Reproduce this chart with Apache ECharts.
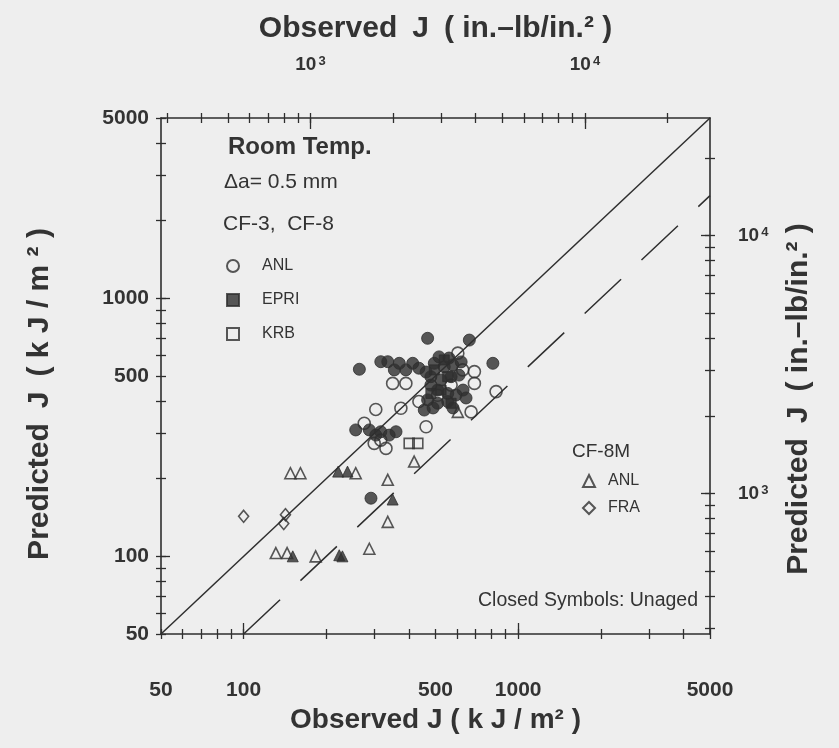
<!DOCTYPE html>
<html>
<head>
<meta charset="utf-8">
<title>Predicted vs Observed J</title>
<script src="https://cdn.jsdelivr.net/npm/echarts@6/dist/echarts.min.js"></script>
<style>
  html, body { margin: 0; padding: 0; background: #eeeeee; }
  #chart { width: 839px; height: 748px; }
</style>
</head>
<body>
<div id="chart"></div>
<script>
// J values in kJ/m^2: [observed, predicted]
const anlAged = [
  [603, 613], [349, 468], [390, 468], [303, 371], [374, 375], [693, 520],
  [628, 528], [693, 468], [831, 435], [674, 363], [462, 318], [275, 328],
  [316, 282], [330, 262], [299, 274], [435, 398], [509, 421], [570, 461]
];
const anlUnaged = [
  [468, 700], [664, 689], [264, 531], [335, 568], [369, 560], [413, 560],
  [354, 528], [390, 528], [809, 560], [256, 309], [287, 309], [316, 304],
  [359, 304], [303, 295], [339, 295], [291, 168], [495, 560], [538, 543],
  [578, 552], [481, 497], [524, 483], [570, 497], [509, 441], [554, 428],
  [468, 404], [509, 392], [554, 398], [455, 369], [609, 504], [630, 441],
  [594, 422], [481, 461], [462, 518], [560, 587], [620, 567], [515, 593],
  [490, 376], [579, 376], [646, 411], [316, 568], [435, 536]
];
const epri = [
  [495, 528], [554, 497], [524, 441], [481, 428], [570, 392], [538, 577]
];
const krb = [
  [401, 274], [431, 274]
];
const cf8mAnlAged = [
  [148, 210], [161, 210], [256, 210], [335, 198], [335, 136], [287, 107],
  [131, 103], [144, 103], [183, 100], [418, 233], [603, 363]
];
const cf8mAnlUnaged = [
  [221, 213], [239, 213], [349, 166], [151, 100], [223, 101], [229, 100]
];
const fra = [
  [100, 143], [142, 145], [140, 134]
];
// reference lines: predicted = observed, predicted = observed / 2
const equalLine = [[50, 50], [5000, 5000]];
const halfLine = [[100, 50], [5000, 2500]];

// axis ticks
const kjTicks = [50, 60, 70, 80, 90, 100, 200, 300, 400, 500, 600, 700, 800, 900, 1000, 2000, 3000, 4000, 5000];
const kjMajorTicks = [100, 1000];
const kjLabels = [50, 100, 500, 1000, 5000];
const inlbTicks = [300, 400, 500, 600, 700, 800, 900, 1000, 2000, 3000, 4000, 5000, 6000, 7000, 8000, 9000, 10000, 20000];
const inlbMajorTicks = [1000, 10000];
const inlbLabels = [1000, 10000];

const KJ_PER_INLB = 0.175127; // 1 in.-lb/in.^2 in kJ/m^2
const KJ_MIN = 50, KJ_MAX = 5000;
const INLB_MIN = KJ_MIN / KJ_PER_INLB, INLB_MAX = KJ_MAX / KJ_PER_INLB;

const INK = '#2e2e2e';
const TXT = '#333333';
const FONT = "'Liberation Sans', Arial, Helvetica, sans-serif";
const EXP = { 1000: '3', 10000: '4' };

function baseAxis(position, min, max) {
  return {
    type: 'log', logBase: 10, position: position, min: min, max: max,
    splitLine: { show: false }, minorTick: { show: false },
    axisLine: { show: false },
    axisLabel: { show: false },
    axisTick: { show: false }
  };
}
function tickAxis(position, min, max, ticks, inside, length) {
  const a = baseAxis(position, min, max);
  a.axisTick = { show: true, inside: inside, length: length, customValues: ticks,
                 lineStyle: { color: INK, width: 1.3 } };
  return a;
}
function mainAxis(position, min, max, ticks, labels, fmt, margin, fontSize, name, nameGap, isY) {
  const a = tickAxis(position, min, max, ticks, false, 5);
  a.axisLine = { show: true, onZero: false, lineStyle: { color: INK, width: 1.6 } };
  a.axisLabel = { show: true, customValues: labels, margin: margin, formatter: fmt,
                  color: TXT, fontFamily: FONT, fontWeight: 'bold', fontSize: fontSize,
                  rich: {
                    b: { fontFamily: FONT, fontWeight: 'bold', fontSize: 19, color: TXT },
                    s: { fontFamily: FONT, fontWeight: 'bold', fontSize: 13, color: TXT,
                         verticalAlign: 'top', padding: [0, 0, 0, 2] }
                  } };
  a.name = name;
  a.nameLocation = 'middle';
  a.nameGap = nameGap;
  if (isY) a.nameRotate = 90;
  a.nameTextStyle = { color: TXT, fontFamily: FONT, fontWeight: 'bold', fontSize: 28 };
  return a;
}

const kjFmt = v => String(Math.round(v));
const inlbFmt = v => '{b|10}{s|' + (EXP[Math.round(v)] || '') + '}';

const xAxes = [
  mainAxis('bottom', KJ_MIN, KJ_MAX, kjTicks, kjLabels, kjFmt, 46, 21,
           'Observed J ( k J / m² )', 72, false),
  tickAxis('bottom', KJ_MIN, KJ_MAX, kjTicks, true, 5),
  tickAxis('bottom', KJ_MIN, KJ_MAX, kjMajorTicks, true, 11),
  mainAxis('top', INLB_MIN, INLB_MAX, inlbTicks, inlbLabels, inlbFmt, 44, 19,
           'Observed\u2002J\u2002( in.–lb/in.² )', 74, false),
  tickAxis('top', INLB_MIN, INLB_MAX, inlbTicks, true, 5),
  tickAxis('top', INLB_MIN, INLB_MAX, inlbMajorTicks, true, 11)
];
const yAxes = [
  mainAxis('left', KJ_MIN, KJ_MAX, kjTicks, kjLabels, kjFmt, 12, 21,
           'Predicted\u2002J\u2002( k J / m ² )', 106, true),
  tickAxis('left', KJ_MIN, KJ_MAX, kjTicks, true, 5),
  tickAxis('left', KJ_MIN, KJ_MAX, kjMajorTicks, true, 9),
  mainAxis('right', INLB_MIN, INLB_MAX, inlbTicks, inlbLabels, inlbFmt, 28, 19,
           'Predicted\u2002J\u2002( in.–lb/in.² )', 74, true),
  tickAxis('right', INLB_MIN, INLB_MAX, inlbTicks, true, 5),
  tickAxis('right', INLB_MIN, INLB_MAX, inlbMajorTicks, true, 9)
];
xAxes[3].nameTextStyle.fontSize = 30;
yAxes[0].nameTextStyle.fontSize = 30;
yAxes[0].nameTextStyle.padding = [0, 36, 0, 0];
yAxes[3].nameTextStyle.fontSize = 30;
yAxes[3].nameTextStyle.padding = [0, 46, 0, 0];

const openStyle = { color: 'rgba(0,0,0,0)', borderColor: INK, borderWidth: 1.6 };
const fillStyle = { color: INK, borderColor: INK, borderWidth: 1 };

function scatter(name, data, symbol, size, style) {
  return { type: 'scatter', name: name, data: data, symbol: symbol, symbolSize: size,
           itemStyle: style, xAxisIndex: 0, yAxisIndex: 0, z: 3,
           emphasis: { disabled: true } };
}

const legendLabels = {
  'ANL (CF-3, CF-8)': 'ANL', 'EPRI': 'EPRI', 'KRB': 'KRB',
  'ANL (CF-8M)': 'ANL', 'FRA': 'FRA'
};
const legendText = { color: TXT, fontSize: 16, fontFamily: FONT };

const option = {
  backgroundColor: '#eeeeee',
  animation: false,
  textStyle: { fontFamily: FONT },
  grid: { left: 161, top: 118, width: 549, height: 516, containLabel: false },
  xAxis: xAxes,
  yAxis: yAxes,
  legend: [
    {
      orient: 'vertical', left: 221, top: 253, itemWidth: 12, itemHeight: 12, itemGap: 18,
      selectedMode: false, symbolKeepAspect: true,
      textStyle: Object.assign({ padding: [0, 0, 0, 18] }, legendText),
      formatter: n => legendLabels[n],
      data: [
        { name: 'ANL (CF-3, CF-8)', icon: 'circle' },
        { name: 'EPRI', icon: 'rect' },
        { name: 'KRB', icon: 'rect' }
      ]
    },
    {
      orient: 'vertical', left: 577, top: 468, itemWidth: 12, itemHeight: 12, itemGap: 11,
      selectedMode: false, symbolKeepAspect: true,
      textStyle: Object.assign({ padding: [0, 0, 0, 8] }, legendText),
      formatter: n => legendLabels[n],
      data: [
        { name: 'ANL (CF-8M)', icon: 'triangle' },
        { name: 'FRA', icon: 'diamond' }
      ]
    }
  ],
  graphic: [
    { type: 'text', left: 228, top: 135, style: { text: 'Room Temp.', fill: TXT,
      font: 'bold 24px ' + FONT } },
    { type: 'text', left: 224, top: 172, style: { text: 'Δa= 0.5 mm', fill: TXT,
      font: '21px ' + FONT } },
    { type: 'text', left: 223, top: 214, style: { text: 'CF-3,  CF-8', fill: TXT,
      font: '21px ' + FONT } },
    { type: 'text', left: 572, top: 442, style: { text: 'CF-8M', fill: TXT,
      font: '19px ' + FONT } },
    { type: 'text', left: 478, top: 591, style: { text: 'Closed Symbols: Unaged', fill: TXT,
      font: '19.5px ' + FONT } }
  ],
  series: [
    { type: 'line', name: 'equal', data: equalLine, symbol: 'none', silent: true,
      lineStyle: { color: INK, width: 1.5 }, z: 2 },
    { type: 'line', name: 'half', data: halfLine, symbol: 'none', silent: true,
      lineStyle: { color: INK, width: 1.5, type: [50, 28] }, z: 2 },
    scatter('ANL (CF-3, CF-8)', anlAged, 'circle', 12, openStyle),
    scatter('ANL unaged (CF-3, CF-8)', anlUnaged, 'circle', 12, fillStyle),
    scatter('EPRI', epri, 'rect', 10, fillStyle),
    scatter('KRB', krb, 'rect', 10, openStyle),
    scatter('ANL (CF-8M)', cf8mAnlAged, 'triangle', 11, openStyle),
    scatter('ANL unaged (CF-8M)', cf8mAnlUnaged, 'triangle', 11, fillStyle),
    scatter('FRA', fra, 'diamond', [10, 12], openStyle)
  ]
};

const chart = echarts.init(document.getElementById('chart'), null, { renderer: 'canvas' });
chart.setOption(option);
</script>
</body>
</html>
